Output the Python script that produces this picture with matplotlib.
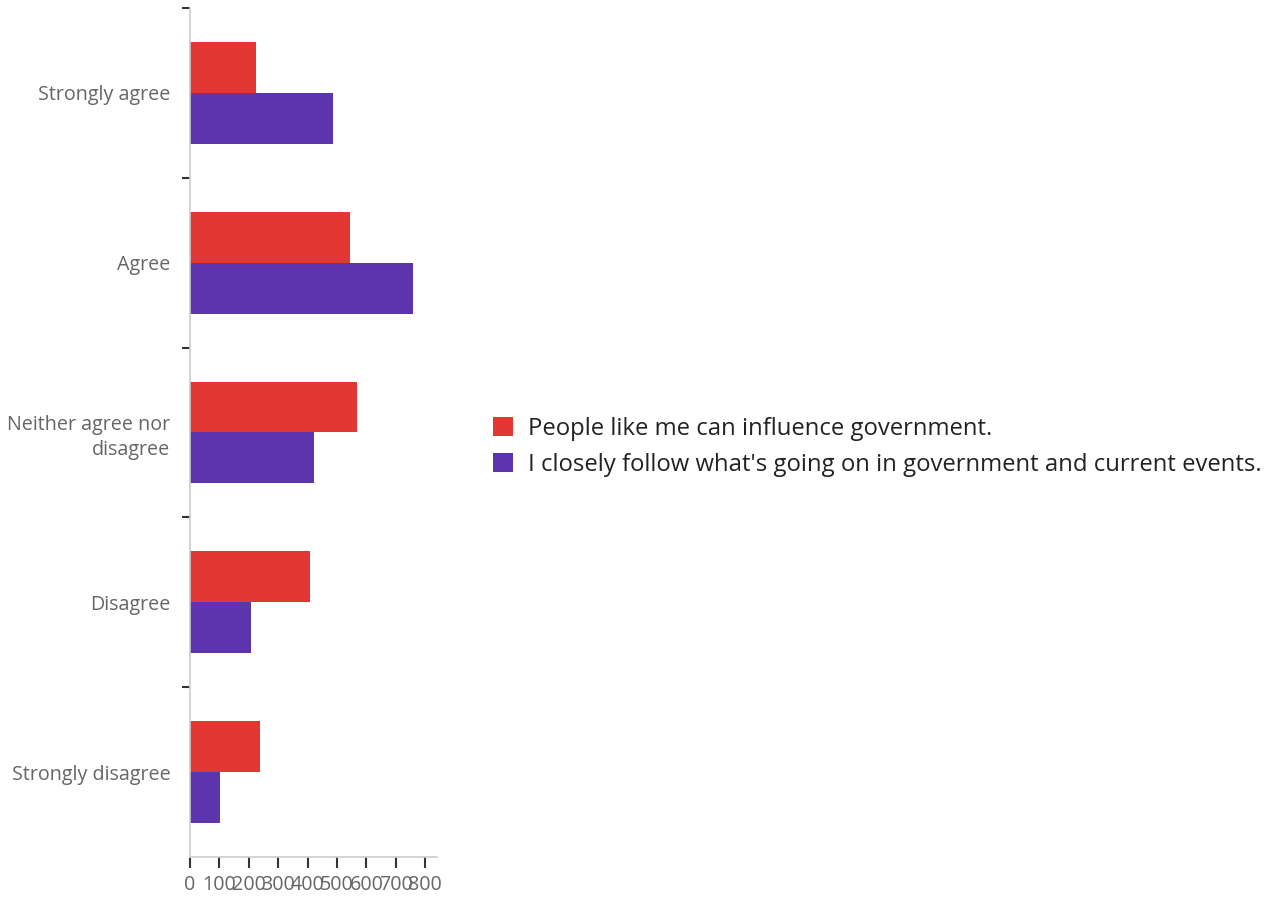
import matplotlib
matplotlib.use("Agg")
import matplotlib.pyplot as plt
import numpy as np

categories = ["Strongly agree", "Agree", "Neither agree nor\ndisagree", "Disagree", "Strongly disagree"]
series_names = ["People like me can influence government.",
                "I closely follow what's going on in government and current events."]
influence = [223, 544, 567, 409, 238]
follow = [487, 760, 423, 207, 101]
x_ticks = [0, 100, 200, 300, 400, 500, 600, 700, 800]

RED = "#E33734"
PURPLE = "#5C34AE"

plt.rcParams['font.family'] = ['Open Sans', 'DejaVu Sans']

fig = plt.figure(figsize=(12.7, 8.97), dpi=100)
ax = fig.add_axes([190/1270, 1-857/897, 247/1270, 849/897])

y = np.arange(len(categories))
h = 0.3
b1 = ax.barh(y - h/2, influence, height=h, color=RED, label=series_names[0])
b2 = ax.barh(y + h/2, follow, height=h, color=PURPLE, label=series_names[1])

ax.set_ylim(len(categories) - 0.5, -0.5)
ax.set_xlim(0, 840)

# y: boundary ticks (major, no labels), category labels on minor ticks
ax.set_yticks(np.arange(-0.5, len(categories) - 0.5, 1.0))
ax.set_yticklabels([])
ax.set_yticks(y, minor=True)
ax.set_yticklabels(categories, minor=True, color="#666666", fontsize=14.2,
                   linespacing=1.35)
ax.tick_params(axis='y', which='major', length=6, width=1.5, color="#333333")
ax.tick_params(axis='y', which='minor', length=0, pad=14)

ax.set_xticks(x_ticks)
ax.set_xticklabels([str(v) for v in x_ticks], color="#666666", fontsize=14.2)
ax.tick_params(axis='x', length=8, width=1.5, color="#333333", pad=5)

for s in ['top', 'right']:
    ax.spines[s].set_visible(False)
for s in ['left', 'bottom']:
    ax.spines[s].set_color("#CCCCCC")
    ax.spines[s].set_linewidth(1.2)

fig.legend(handles=[b1, b2], loc='center left', bbox_to_anchor=(493/1270, 1-447/897),
           frameon=False, fontsize=17.2, handlelength=0.85, handleheight=0.85,
           handletextpad=0.6, labelspacing=0.5, borderpad=0, borderaxespad=0,
           labelcolor="#222222")

fig.savefig("out.png", dpi=100)
